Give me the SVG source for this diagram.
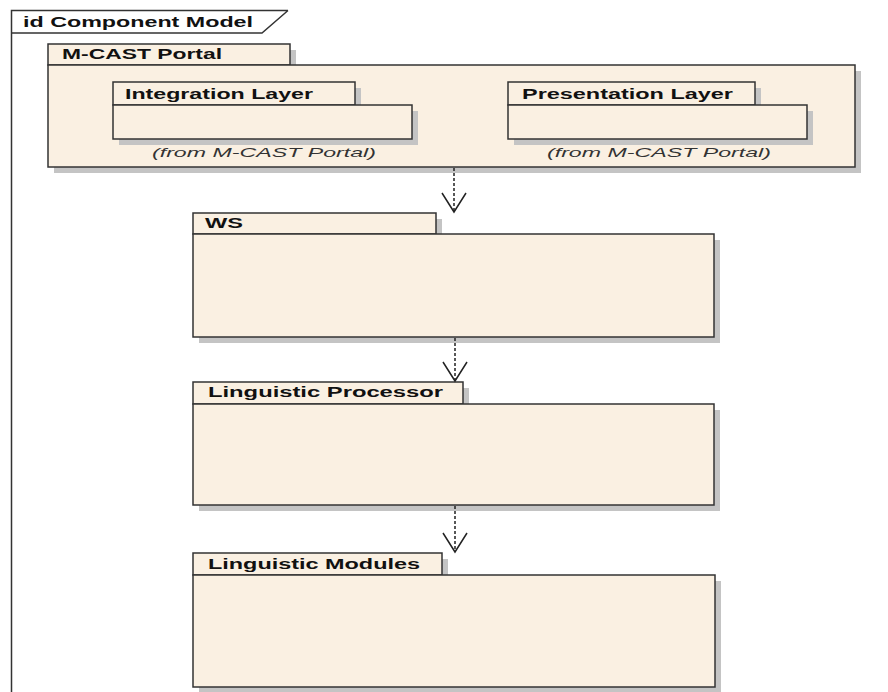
<svg xmlns="http://www.w3.org/2000/svg" width="888" height="692" viewBox="0 0 888 692">
<style>
.bg{fill:#ffffff}
.frame{fill:none;stroke:#333333;stroke-width:1.5}
.pkg{fill:#FAF0E2;stroke:#333333;stroke-width:1.5}
.sh{fill:#c4c4c4}
.t{font-family:"Liberation Sans",Arial,sans-serif;font-weight:bold;font-size:14px;fill:#111111}
.from{font-family:"Liberation Sans",Arial,sans-serif;font-style:italic;font-size:13.5px;fill:#333333}
.dep{fill:none;stroke:#222222;stroke-width:1.5;stroke-dasharray:3 2}
.head{fill:none;stroke:#222222;stroke-width:1.5;stroke-dasharray:none}
</style>
<defs>
<marker id="open" markerUnits="userSpaceOnUse" viewBox="-21 -14 23 28" markerWidth="23" markerHeight="28" refX="0" refY="0" orient="auto">
<path class="head" d="M-19,-12 L0,0 L-19,12"/>
</marker>
</defs>
<rect class="bg" x="0" y="0" width="888" height="692"/>
<g id="frame">
<path class="frame" d="M11.5,692 L11.5,10.5 L288,10.5 M11.5,33 L262,33 L288,10.5"/>
<text class="t" x="23" y="27" textLength="230" lengthAdjust="spacingAndGlyphs">id Component Model</text>
</g>
<g id="mcast-portal">
<rect class="sh" x="54" y="50" width="242" height="21"/>
<rect class="sh" x="54" y="71" width="807" height="102"/>
<rect class="pkg" x="48" y="44" width="242" height="21"/>
<rect class="pkg" x="48" y="65" width="807" height="102"/>
<text class="t" x="62" y="59" textLength="160" lengthAdjust="spacingAndGlyphs">M-CAST Portal</text>
</g>
<g id="integration-layer">
<rect class="sh" x="119" y="88" width="242" height="23"/>
<rect class="sh" x="119" y="111" width="299" height="34"/>
<rect class="pkg" x="113" y="82" width="242" height="23"/>
<rect class="pkg" x="113" y="105" width="299" height="34"/>
<text class="t" x="125" y="99" textLength="188" lengthAdjust="spacingAndGlyphs">Integration Layer</text>
<text class="from" x="152" y="157" textLength="224" lengthAdjust="spacingAndGlyphs">(from M-CAST Portal)</text>
</g>
<g id="presentation-layer">
<rect class="sh" x="514" y="88" width="247" height="23"/>
<rect class="sh" x="514" y="111" width="299" height="34"/>
<rect class="pkg" x="508" y="82" width="247" height="23"/>
<rect class="pkg" x="508" y="105" width="299" height="34"/>
<text class="t" x="522" y="99" textLength="211" lengthAdjust="spacingAndGlyphs">Presentation Layer</text>
<text class="from" x="547" y="157" textLength="224" lengthAdjust="spacingAndGlyphs">(from M-CAST Portal)</text>
</g>
<g id="ws">
<rect class="sh" x="199" y="219" width="243" height="21"/>
<rect class="sh" x="199" y="240" width="521" height="103"/>
<rect class="pkg" x="193" y="213" width="243" height="21"/>
<rect class="pkg" x="193" y="234" width="521" height="103"/>
<text class="t" x="205" y="228" textLength="38" lengthAdjust="spacingAndGlyphs">WS</text>
</g>
<g id="linguistic-processor">
<rect class="sh" x="199" y="388" width="270" height="22"/>
<rect class="sh" x="199" y="410" width="521" height="101"/>
<rect class="pkg" x="193" y="382" width="270" height="22"/>
<rect class="pkg" x="193" y="404" width="521" height="101"/>
<text class="t" x="208" y="397" textLength="235" lengthAdjust="spacingAndGlyphs">Linguistic Processor</text>
</g>
<g id="linguistic-modules">
<rect class="sh" x="199" y="559" width="249" height="22"/>
<rect class="sh" x="199" y="581" width="522" height="112"/>
<rect class="pkg" x="193" y="553" width="249" height="22"/>
<rect class="pkg" x="193" y="575" width="522" height="112"/>
<text class="t" x="208" y="569" textLength="212" lengthAdjust="spacingAndGlyphs">Linguistic Modules</text>
</g>
<g id="connectors">
<path class="dep" d="M454,168 L454,212" marker-end="url(#open)"/>
<path class="dep" d="M455,338 L455,381" marker-end="url(#open)"/>
<path class="dep" d="M455,506 L455,552" marker-end="url(#open)"/>
</g>
</svg>
